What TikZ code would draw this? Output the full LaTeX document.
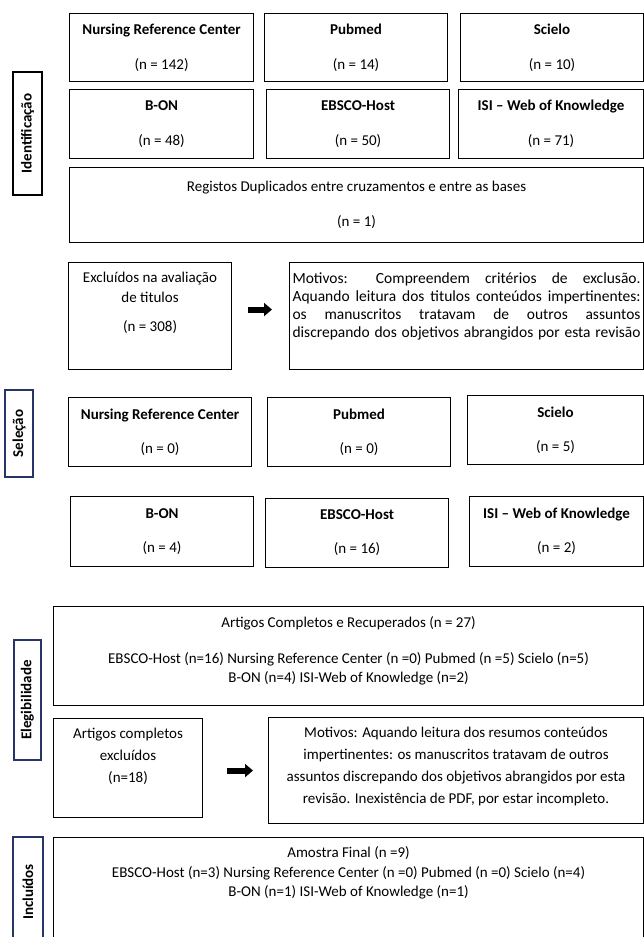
\documentclass[tikz,border=0pt]{standalone}
\usepackage{fontspec}
\setmainfont{Carlito}
\usetikzlibrary{arrows.meta, positioning}
\definecolor{navyline}{RGB}{38,52,104}

\begin{document}
\begin{tikzpicture}[
        x=1pt, y=-1pt,
        % caixas das bases de dados
        dbbox/.style={
                draw,
                line width=1.1pt,
                anchor=north west,
                inner sep=0pt,
                align=center,
                font=\fontsize{15}{35}\selectfont
            },
        % caixas com texto em cima
        txtbox/.style={
                draw,
                line width=1.1pt,
                anchor=north west,
                inner sep=0pt,
                font=\fontsize{15}{22}\selectfont
            },
        % etiquetas das fases
        phase/.style={
                draw=navyline,
                line width=1.1pt,
                rotate=90,
                inner sep=0pt,
                font=\fontsize{15}{18}\selectfont\bfseries
            },
        % setas grossas
        bigarrow/.style={
                line width=6pt,
                -{Triangle[length=8pt,width=13pt]}
            }
    ]

    \useasboundingbox (0,0) rectangle (644,937);
    \clip (0,0) rectangle (644,937);

    % IDENTIFICACAO
    \node[phase, draw=black, minimum width=123, minimum height=29] (identif) at (27.5,133.5) {Identificação};

    \node[dbbox, minimum width=184, minimum height=68] (nrcA) at (69,13) {\textbf{Nursing Reference Center}\\(n = 142)};
    \node[dbbox, minimum width=183, minimum height=68] (pubA) at (264,13) {\textbf{Pubmed}\\(n = 14)};
    \node[dbbox, minimum width=183, minimum height=68] (sciA) at (460,13) {\textbf{Scielo}\\(n = 10)};

    \node[dbbox, minimum width=184, minimum height=69] (bonA) at (69,89) {\textbf{B-ON}\\(n = 48)};
    \node[dbbox, minimum width=183, minimum height=69] (ebsA) at (266,89) {\textbf{EBSCO-Host}\\(n = 50)};
    \node[dbbox, minimum width=185, minimum height=69] (isiA) at (458,89) {\textbf{ISI -- Web of Knowledge}\\(n = 71)};

    \node[dbbox, minimum width=574, minimum height=75] (dupl) at (69,167) {Registos Duplicados entre cruzamentos e entre as bases\\(n = 1)};

    % EXCLUIDOS NOS TITULOS
    \node[txtbox] (exclA) at (68,262) {\parbox[c][107pt][t]{163pt}{\centering\fontsize{15}{20}\selectfont\vspace*{10pt}Excluídos na avaliação\\de titulos\\[9pt](n = 308)}};
    \node[txtbox] (motivA) at (289,262) {\parbox[c][107pt][t]{354pt}{\centering\fontsize{15.5}{18}\selectfont\vspace*{10pt}%
        \makebox[348pt][s]{Motivos: Compreendem critérios de exclusão.}\\
        \makebox[348pt][s]{Aquando leitura dos titulos conteúdos impertinentes:}\\
        \makebox[348pt][s]{os manuscritos tratavam de outros assuntos}\\
        \makebox[348pt][s]{discrepando dos objetivos abrangidos por esta revisão}}};

    \draw[bigarrow, shorten <=16pt, shorten >=17pt] ([yshift=6.5pt]exclA.east) -- ([yshift=6.5pt]motivA.west);

    % SELECAO
    \node[phase, minimum width=87, minimum height=28] (selec) at (19,433.5) {Seleção};

    \node[dbbox, minimum width=183, minimum height=69, font=\fontsize{15}{34}\selectfont] (nrcB) at (68,397) {\textbf{Nursing Reference Center}\\(n = 0)};
    \node[dbbox, minimum width=183, minimum height=69, font=\fontsize{15}{34}\selectfont] (pubB) at (267,397) {\textbf{Pubmed}\\(n = 0)};
    \node[dbbox, minimum width=176, minimum height=69, font=\fontsize{15}{34}\selectfont] (sciB) at (467,395) {\textbf{Scielo}\\(n = 5)};

    \node[dbbox, minimum width=183, minimum height=70, font=\fontsize{15}{34}\selectfont] (bonB) at (70,496) {\textbf{B-ON}\\(n = 4)};
    \node[dbbox, minimum width=183, minimum height=69, font=\fontsize{15}{34}\selectfont] (ebsB) at (265,498) {\textbf{EBSCO-Host}\\(n = 16)};
    \node[dbbox, minimum width=174, minimum height=70, font=\fontsize{15}{34}\selectfont] (isiB) at (469,496) {\textbf{ISI -- Web of Knowledge}\\(n = 2)};

    % ELEGIBILIDADE
    \node[phase, minimum width=120, minimum height=27] (elegib) at (27.5,700) {Elegibilidade};

    \node[txtbox] (recup) at (53,606) {\parbox[c][99pt][t]{590pt}{\centering\fontsize{15}{19}\selectfont\vspace*{10pt}Artigos Completos e Recuperados (n = 27)\\[17pt]
        EBSCO-Host (n=16) Nursing Reference Center (n =0) Pubmed (n =5) Scielo (n=5)\\
        B-ON (n=4) ISI-Web of Knowledge (n=2)}};

    \node[txtbox] (exclB) at (53,718) {\parbox[c][99pt][t]{149pt}{\centering\vspace*{10pt}Artigos completos\\excluídos\\(n=18)}};
    \node[txtbox] (motivB) at (268,717) {\parbox[c][106pt][t]{375pt}{\centering\vspace*{10pt}Motivos: Aquando leitura dos resumos conteúdos\\
        impertinentes: os manuscritos tratavam de outros\\
        assuntos discrepando dos objetivos abrangidos por esta\\
        revisão. Inexistência de PDF, por estar incompleto.}};

    \draw[bigarrow, shorten <=24pt, shorten >=15pt] (exclB.east |- motivB.west) -- (motivB.west);

    % INCLUIDOS
    \node[phase, minimum width=110, minimum height=30] (inclu) at (28,892) {Incluídos};

    \node[txtbox] (amostra) at (53,837) {\parbox[c][110pt][t]{590pt}{\centering\fontsize{15}{19}\selectfont\vspace*{9pt}Amostra Final (n =9)\\[1pt]
        EBSCO-Host (n=3) Nursing Reference Center (n =0) Pubmed (n =0) Scielo (n=4)\\
        B-ON (n=1) ISI-Web of Knowledge (n=1)}};

\end{tikzpicture}
\end{document}
